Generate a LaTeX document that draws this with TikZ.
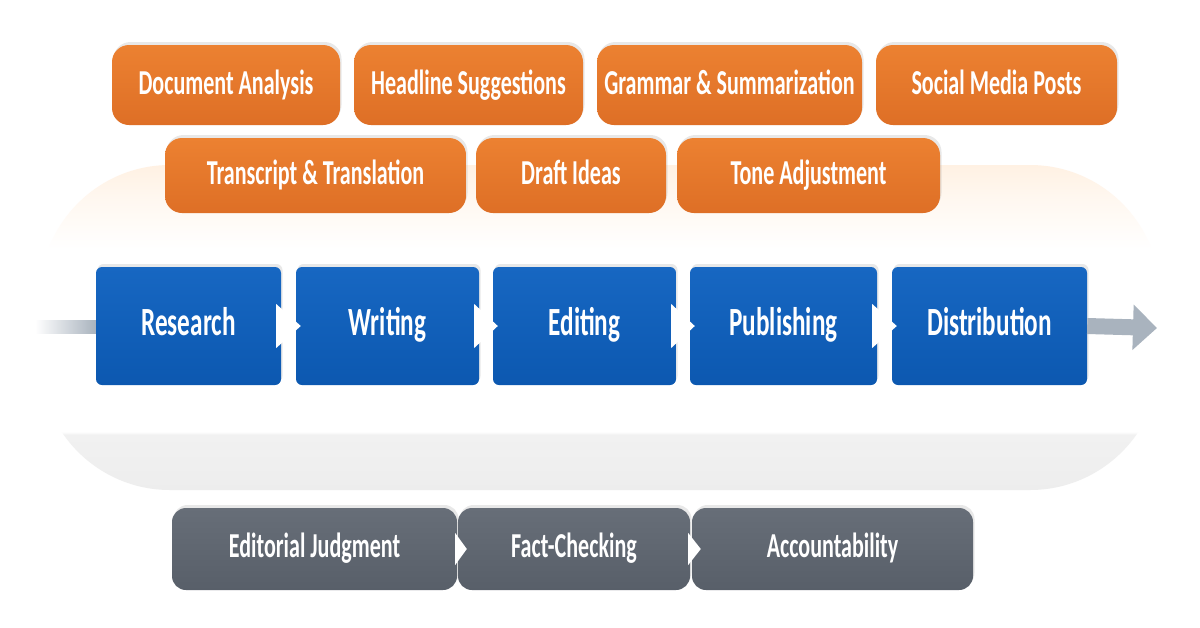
\documentclass[tikz,border=0pt]{standalone}
\usepackage{fontspec}
\setmainfont{Carlito}[FakeStretch=0.63]
\usetikzlibrary{calc,shadows,arrows.meta}
\definecolor{orA}{HTML}{EC8131}
\definecolor{orB}{HTML}{DE6F26}
\definecolor{blA}{HTML}{1767C2}
\definecolor{blB}{HTML}{0C58B0}
\definecolor{gyA}{HTML}{676E78}
\definecolor{gyB}{HTML}{585F69}
\definecolor{arrowgray}{HTML}{A9B3BE}
\pgfdeclareverticalshading{bgshade}{100bp}{color(0bp)=(gray!14); color(25bp)=(gray!14); color(33.5bp)=(gray!11); color(34bp)=(white); color(62bp)=(white); color(70bp)=(orange!6); color(75bp)=(orange!11); color(100bp)=(orange!11)}
\tikzset{
  lbl/.style={text=white, inner sep=0},
  orbox/.style={lbl, rectangle, rounded corners=17, top color=orA, bottom color=orB,
    font=\bfseries\fontsize{35}{37}\selectfont, minimum height=80, text height=23, text depth=5,
    drop shadow={opacity=.18, shadow xshift=1.5, shadow yshift=-3}},
  blbox/.style={lbl, rectangle, rounded corners=6, top color=blA, bottom color=blB,
    font=\bfseries\fontsize{40}{44}\selectfont, minimum height=118, text height=26, text depth=7,
    drop shadow={opacity=.18, shadow xshift=1.5, shadow yshift=-3}},
  gybox/.style={lbl, rectangle, rounded corners=14, top color=gyA, bottom color=gyB,
    font=\bfseries\fontsize{35}{38}\selectfont, minimum height=82, text height=23, text depth=6,
    drop shadow={opacity=.18, shadow xshift=1.5, shadow yshift=-3}},
}
\begin{document}
\begin{tikzpicture}[x=1pt,y=-1pt]
\useasboundingbox (0,0) rectangle (1200,627);
\fill[white] (0,0) rectangle (1200,627);
% background pill
\shade[shading=bgshade, rounded corners=130] (40,165) rectangle (1160,490);
% orange features
\node[orbox, minimum width=228] (da) at (226,85) {Document Analysis};
\node[orbox, minimum width=229] (hs) at (468.5,85) {Headline Suggestions};
\node[orbox, minimum width=265] (gs) at (729.5,85) {Grammar \& Summarization};
\node[orbox, minimum width=241] (sm) at (996.5,85) {Social Media Posts};
\node[orbox, minimum width=301, minimum height=75] (tt) at (315.5,175.5) {Transcript \& Translation};
\node[orbox, minimum width=190, minimum height=75] (di) at (571,175.5) {Draft Ideas};
\node[orbox, minimum width=263, minimum height=75] (ta) at (808.5,175.5) {Tone Adjustment};
% blue workflow
\node[blbox, minimum width=185] (re) at (188.5,326) {Research};
\node[blbox, minimum width=183] (wr) at (387.5,326) {Writing};
\node[blbox, minimum width=183] (ed) at (584.5,326) {Editing};
\node[blbox, minimum width=187] (pu) at (783.5,326) {Publishing};
\node[blbox, minimum width=195] (di2) at (989.5,326) {Distribution};
\foreach \a/\b in {re/wr, wr/ed, ed/pu, pu/di2}{
  \fill[white] ($(\a.east)+(-5,-22)$) -- ($(\b.west)+(5,0)$) -- ($(\a.east)+(-5,22)$) -- cycle;
}
% incoming and outgoing
\coordinate (in) at (35,327);
\shade[left color=white, right color=arrowgray] ($(in)+(0,-7)$) rectangle ($(re.west)+(0,7)$);
\coordinate (out) at (1157,328);
\draw[arrowgray, line width=16, -{Triangle[length=24pt,width=44pt]}] (di2.east) -- (out);
% gray foundation
\node[gybox, minimum width=285] (ej) at (314.5,549) {Editorial Judgment};
\node[gybox, minimum width=232] (fc) at (574,549) {Fact-Checking};
\node[gybox, minimum width=281] (ac) at (832.5,549) {Accountability};
\foreach \a/\b in {ej/fc, fc/ac}{
  \fill[white] ($(\a.east)+(-2,-16)$) -- ($(\b.west)+(9,0)$) -- ($(\a.east)+(-2,16)$) -- cycle;
}
\end{tikzpicture}
\end{document}
